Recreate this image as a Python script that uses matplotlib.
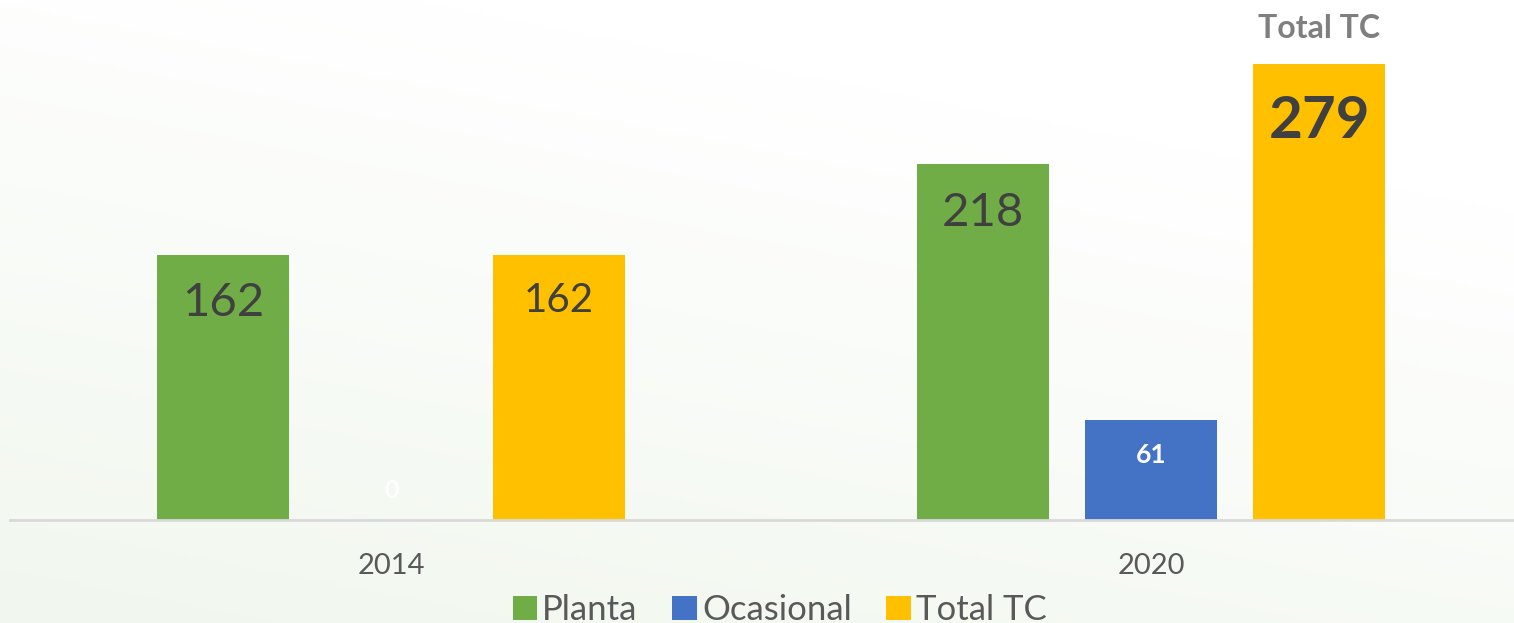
import numpy as np
import matplotlib
matplotlib.use("Agg")
import matplotlib.pyplot as plt
from matplotlib.patches import Patch
from matplotlib.colors import LinearSegmentedColormap

plt.rcParams['font.family'] = ['Lato', 'DejaVu Sans']

years = ['2014', '2020']
series = ['Planta', 'Ocasional', 'Total TC']
planta = [162, 218]
ocasional = [0, 61]
total_tc = [162, 279]
colors = ['#70AD47', '#4472C4', '#FFC000']

W, H = 1514, 623
fig = plt.figure(figsize=(W / 100, H / 100), dpi=100)

# soft background gradient (white top-right -> pale green bottom-left)
bg = fig.add_axes([0, 0, 1, 1], zorder=-10)
yy, xx = np.mgrid[0:1:200j, 0:1:400j]
grad = np.clip(0.75 * yy + 0.35 * (1 - xx) - 0.25, 0, 1)
cmap = LinearSegmentedColormap.from_list('bg', ['#FFFFFF', '#F1F7EE'])
bg.imshow(grad, cmap=cmap, aspect='auto', extent=[0, 1, 0, 1], origin='upper')
bg.axis('off')

ax = fig.add_axes([10 / W, (H - 520) / H, 1504 / W, 520 / H])
ax.patch.set_alpha(0)

x = np.arange(len(years))
width = 0.174
step = 0.221
data = [planta, ocasional, total_tc]
for i, vals in enumerate(data):
    ax.bar(x + (i - 1) * step, vals, width, color=colors[i], label=series[i])

ax.set_xlim(-0.5016, 1.4776)
ymax = 318.2
ax.set_ylim(0, ymax)
px = ymax / 520.0  # data units per pixel

# value labels
lab = '#404040'
ax.text(x[0] - step, planta[0] - 48 * px, str(planta[0]), ha='center', va='center',
        fontsize=34, color=lab)
ax.text(x[0], 30 * px, str(ocasional[0]), ha='center', va='center',
        fontsize=18, color='white', fontweight='bold')
ax.text(x[0] + step, total_tc[0] - 45 * px, str(total_tc[0]), ha='center', va='center',
        fontsize=29, color=lab)
ax.text(x[1] - step, planta[1] - 49 * px, str(planta[1]), ha='center', va='center',
        fontsize=34, color=lab)
ax.text(x[1], ocasional[1] - 35 * px, str(ocasional[1]), ha='center', va='center',
        fontsize=19, color='white', fontweight='bold')
ax.text(x[1] + step, total_tc[1] - 57 * px, str(total_tc[1]), ha='center', va='center',
        fontsize=42, color=lab, fontweight='bold')
ax.text(x[1] + step, total_tc[1] + 36 * px, 'Total TC', ha='center', va='center',
        fontsize=23, color='#7F7F7F', fontweight='bold')

for s in ['top', 'right', 'left']:
    ax.spines[s].set_visible(False)
ax.spines['bottom'].set_color('#D9D9D9')
ax.spines['bottom'].set_linewidth(2)
ax.set_yticks([])
ax.set_xticks(x)
ax.set_xticklabels(years, fontsize=21, color='#595959')
ax.tick_params(axis='x', length=0, pad=24)

handles = [Patch(facecolor=c, edgecolor='none') for c in colors]
fig.legend(handles, series, loc='lower center', bbox_to_anchor=(0.515, -0.055), ncol=3,
           frameon=False, fontsize=25, labelcolor='#595959', handlelength=0.7,
           handleheight=0.7, handletextpad=0.15, columnspacing=1.0)

fig.savefig('out.png', dpi=100)
